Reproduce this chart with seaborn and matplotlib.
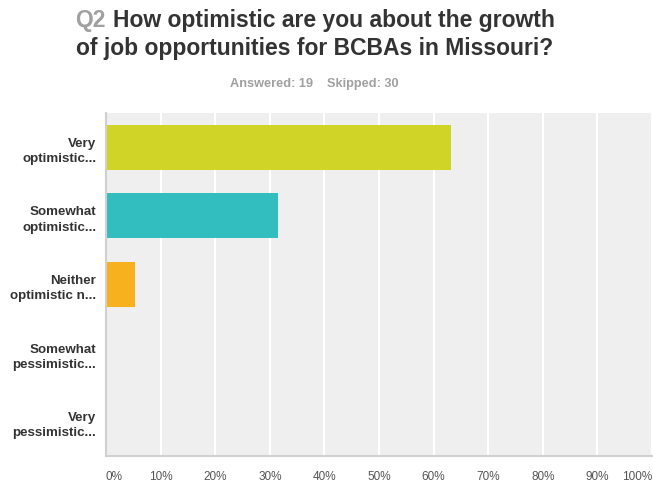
import matplotlib
matplotlib.use("Agg")
import matplotlib.pyplot as plt
import seaborn as sns
import pandas as pd
from matplotlib.offsetbox import TextArea, HPacker, AnnotationBbox

categories = ["Very\noptimistic...", "Somewhat\noptimistic...", "Neither\noptimistic n...",
              "Somewhat\npessimistic...", "Very\npessimistic..."]
percentages = [63.16, 31.58, 5.26, 0.0, 0.0]
colors = ["#d0d426", "#32bebe", "#f7b11e", "#e96f2e", "#e2304f"]
tick_values = [0, 10, 20, 30, 40, 50, 60, 70, 80, 90, 100]
tick_labels = [f"{v}%" for v in tick_values]

df = pd.DataFrame({"cat": categories, "pct": percentages})

sns.set_theme(style="white")
plt.rcParams['font.family'] = ['Liberation Sans', 'DejaVu Sans']

fig = plt.figure(figsize=(6.53, 4.89), dpi=100)
ax = fig.add_axes([106/653, 1 - 457/489, 546/653, 343/489])
ax.set_facecolor("#efefef")

sns.barplot(data=df, y="cat", x="pct", hue="cat", palette=colors, orient="h",
            width=0.655, legend=False, ax=ax, saturation=1, linewidth=0)

ax.set_xlim(0, 100)
ax.set_ylim(4.5, -0.5)
ax.set_xticks(tick_values)
ax.set_xticklabels(tick_labels, fontsize=8.5, color="#555555")
for i, lab in enumerate(ax.get_xticklabels()):
    if i == 0:
        lab.set_ha("left")
    elif i == len(tick_values) - 1:
        lab.set_ha("right")
ax.tick_params(axis="x", length=0, pad=10)
ax.tick_params(axis="y", length=0, pad=7)
for lab in ax.get_yticklabels():
    lab.set_fontweight("bold")
    lab.set_fontsize(9.6)
    lab.set_color("#333333")
    lab.set_multialignment("right")
    lab.set_linespacing(1.35)
ax.set_xlabel("")
ax.set_ylabel("")
ax.grid(axis="x", color="white", linewidth=1.5)
ax.set_axisbelow(True)
for s in ["top", "right"]:
    ax.spines[s].set_visible(False)
for s in ["left", "bottom"]:
    ax.spines[s].set_color("#d0d0d0")
    ax.spines[s].set_linewidth(1.5)

fam = ['Liberation Sans', 'DejaVu Sans']
q = TextArea("Q2", textprops=dict(color="#a0a0a0", fontsize=16.5, fontweight="bold", family=fam))
r = TextArea("How optimistic are you about the growth",
             textprops=dict(color="#333333", fontsize=16.5, fontweight="bold", family=fam))
box = HPacker(children=[q, r], align="baseline", pad=0, sep=5)
ab = AnnotationBbox(box, (315/653, 1 - 21/489), xycoords="figure fraction",
                    frameon=False, box_alignment=(0.5, 0.5))
fig.add_artist(ab)
fig.text(315/653, 1 - 48/489, "of job opportunities for BCBAs in Missouri?",
         color="#333333", fontsize=16.5, fontweight="bold", ha="center", va="center")
fig.text(314/653, 1 - 84/489, "Answered: 19    Skipped: 30", color="#a0a0a0",
         fontsize=9.2, fontweight="bold", ha="center", va="center")

fig.savefig("out.png", dpi=100)
